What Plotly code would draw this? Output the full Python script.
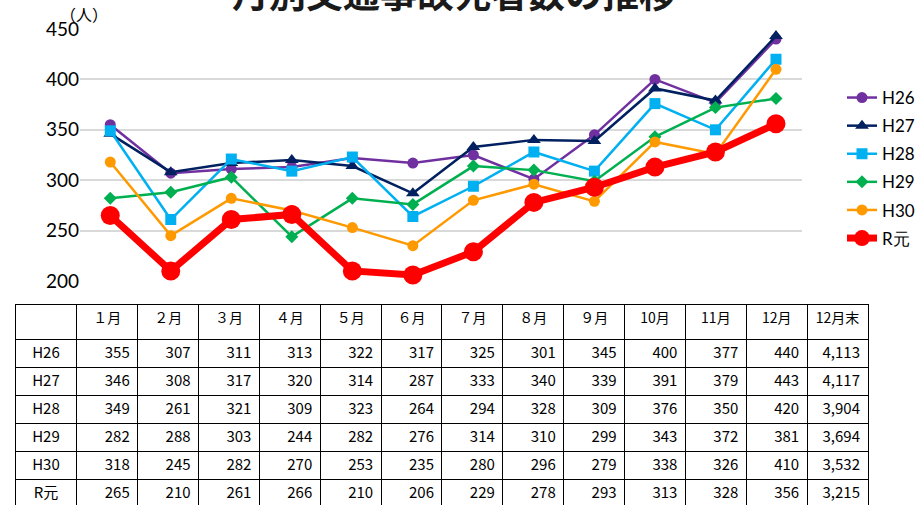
import plotly.graph_objects as go

months = ["１月", "２月", "３月", "４月", "５月", "６月", "７月", "８月", "９月", "10月", "11月", "12月"]
series_names = ["H26", "H27", "H28", "H29", "H30", "R元"]
h26 = [355, 307, 311, 313, 322, 317, 325, 301, 345, 400, 377, 440]
h27 = [346, 308, 317, 320, 314, 287, 333, 340, 339, 391, 379, 443]
h28 = [349, 261, 321, 309, 323, 264, 294, 328, 309, 376, 350, 420]
h29 = [282, 288, 303, 244, 282, 276, 314, 310, 299, 343, 372, 381]
h30 = [318, 245, 282, 270, 253, 235, 280, 296, 279, 338, 326, 410]
r1 = [265, 210, 261, 266, 210, 206, 229, 278, 293, 313, 328, 356]
year_totals = ["4,113", "4,117", "3,904", "3,694", "3,532", "3,215"]
y_ticks = [200, 250, 300, 350, 400, 450]

all_series = [h26, h27, h28, h29, h30, r1]
colors = ["#7030A0", "#002060", "#00B0F0", "#00B050", "#FF9900", "#FF0000"]
symbols = ["circle", "triangle-up", "square", "diamond", "circle", "circle"]
msizes = [11, 12, 11, 10, 11, 19]
lwidths = [2.5, 2.5, 2.5, 2.5, 2.5, 7]

W, H = 918, 505
fig = go.Figure()
x_idx = list(range(len(months)))
for i, (name, vals) in enumerate(zip(series_names, all_series)):
    fig.add_trace(go.Scatter(
        x=x_idx, y=vals, name=name, mode="lines+markers",
        line=dict(color=colors[i], width=lwidths[i]),
        marker=dict(color=colors[i], symbol=symbols[i], size=msizes[i]),
        legendgroup=name, cliponaxis=False,
    ))

# table
header = [""] + months + ["12月末"]
col_values = [series_names]
for m in range(len(months)):
    col_values.append([str(s[m]) for s in all_series])
col_values.append(year_totals)
tfont = "Noto Sans CJK JP, sans-serif"
fig.add_trace(go.Table(
    domain=dict(x=[15 / W, 868 / W], y=[0, (H - 304) / H]),
    columnwidth=[62] + [61] * 13,
    header=dict(values=header, height=35, align="center",
                fill_color="white", line=dict(color="black", width=1),
                font=dict(family=tfont, size=14, color="black")),
    cells=dict(values=col_values, height=28,
               align=["center"] + ["right"] * 13,
               fill_color="white", line=dict(color="black", width=1),
               font=dict(family=tfont, size=15, color="black")),
))

fig.update_layout(
    width=W, height=H,
    margin=dict(l=0, r=0, t=0, b=0, autoexpand=False),
    paper_bgcolor="white", plot_bgcolor="white",
    showlegend=True,
    legend=dict(x=842 / W, y=(H - 80) / H, xanchor="left", yanchor="top",
                font=dict(family="Lato, sans-serif", size=17, color="black"),
                traceorder="grouped", tracegroupgap=3, bgcolor="rgba(0,0,0,0)"),
    xaxis=dict(domain=[80 / W, 802 / W], range=[-0.5, 11.43], automargin=False,
               showticklabels=False, showgrid=False, zeroline=False, showline=False),
    yaxis=dict(domain=[(H - 281) / H, (H - 29) / H], range=[200, 450], automargin=False,
               tickvals=y_ticks, showgrid=True, gridcolor="#D9D9D9", gridwidth=1.5,
               zeroline=False, showline=False, ticks="",
               tickfont=dict(family="Lato, sans-serif", size=19, color="black")),
    annotations=[
        dict(text="<b>月別交通事故死者数の推移</b>", x=454 / W, y=(H + 8) / H,
             xref="paper", yref="paper", xanchor="center", yanchor="middle",
             showarrow=False, font=dict(family="Noto Sans CJK JP", size=37, color="#1a1a1a")),
        dict(text="（人）", x=58 / W, y=(H - 14) / H, xref="paper", yref="paper",
             xanchor="left", yanchor="middle", showarrow=False,
             font=dict(family="Noto Sans CJK JP", size=16, color="black")),
    ],
)
fig.write_html("out.html", config={"displayModeBar": False},
               post_script="document.body.style.margin='0';document.body.style.overflow='hidden';")
